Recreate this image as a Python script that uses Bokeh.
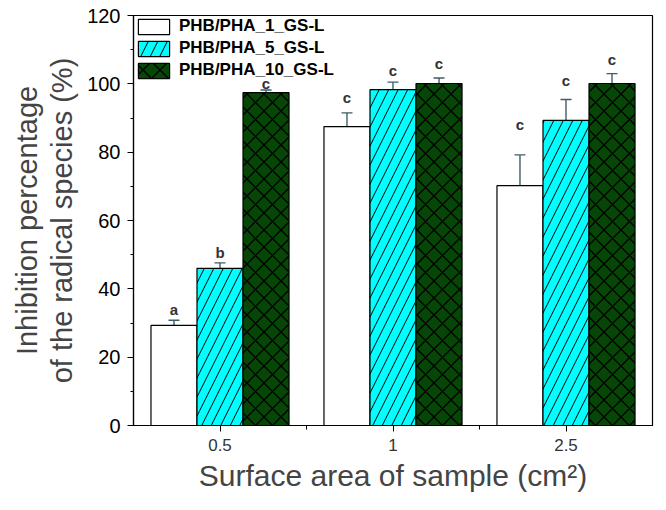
from bokeh.plotting import figure
from bokeh.models import (ColumnDataSource, Range1d, FixedTicker, SingleIntervalTicker,
                          Whisker, TeeHead, Legend, LegendItem)
from bokeh.transform import dodge
from bokeh.core.properties import value
from bokeh.embed import file_html
from bokeh.resources import INLINE

# ---- data ----
categories = ["0.5", "1", "2.5"]
series_names = ["PHB/PHA_1_GS-L", "PHB/PHA_5_GS-L", "PHB/PHA_10_GS-L"]
pha1_vals = [29.3, 87.5, 70.2]
pha1_err = [1.5, 4.0, 9.0]
pha5_vals = [46.0, 98.3, 89.3]
pha5_err = [1.6, 2.2, 6.1]
pha10_vals = [97.4, 100.1, 100.1]
pha10_err = [0.8, 1.6, 2.9]
pha1_letters = ["a", "c", "c"]
pha5_letters = ["b", "c", "c"]
pha10_letters = ["c", "c", "c"]
pha1_letter_y = [34.0, 96.0, 88.0]
pha5_letter_y = [50.5, 104.0, 101.0]
pha10_letter_y = [100.0, 106.0, 107.0]
y_ticks_interval = 20

FONT = "Liberation Sans"
BAR_W = 0.266

p = figure(frame_width=519, frame_height=410, output_backend="svg", toolbar_location=None,
           x_range=Range1d(-0.5, 2.5), y_range=Range1d(0, 120),
           min_border_left=133, min_border_right=6, min_border_top=15, min_border_bottom=20)
p.background_fill_color = "white"
p.border_fill_color = "white"
p.outline_line_color = "black"
p.outline_line_width = 1.2
p.xgrid.visible = False
p.ygrid.visible = False

idx = list(range(len(categories)))

styles = [
    dict(fill_color="white"),
    dict(fill_color="#00ffff", hatch_pattern="right_diagonal_line", hatch_color="black",
         hatch_weight=1.0, hatch_scale=19),
    dict(fill_color="#064606", hatch_pattern="diagonal_cross", hatch_color="black",
         hatch_weight=1.3, hatch_scale=17),
]
offsets = [-BAR_W, 0.0, BAR_W]
all_vals = [pha1_vals, pha5_vals, pha10_vals]
all_errs = [pha1_err, pha5_err, pha10_err]
all_letters = [pha1_letters, pha5_letters, pha10_letters]
all_letter_y = [pha1_letter_y, pha5_letter_y, pha10_letter_y]

items = []
for k in range(3):
    vals = all_vals[k]
    errs = all_errs[k]
    src = ColumnDataSource(dict(
        idx=idx, val=vals,
        upper=[v + e for v, e in zip(vals, errs)],
        lower=[v - e for v, e in zip(vals, errs)],
        letter=all_letters[k], ly=all_letter_y[k],
    ))
    r = p.vbar(x=dodge("idx", offsets[k], range=p.x_range), top="val", bottom=0,
               width=BAR_W, source=src, line_color="black", line_width=1.2, **styles[k])
    items.append(LegendItem(label=series_names[k], renderers=[r]))
    w = Whisker(source=src, base=dodge("idx", offsets[k], range=p.x_range),
                upper="upper", lower="lower", line_color="#3f5c68", line_width=1.4,
                upper_head=TeeHead(size=11, line_color="#3f5c68", line_width=1.4),
                lower_head=TeeHead(size=11, line_color="#3f5c68", line_width=1.4))
    p.add_layout(w)
    p.text(x=dodge("idx", offsets[k], range=p.x_range), y="ly", text="letter", source=src,
           text_font=value(FONT), text_font_size="15px", text_font_style="bold",
           text_color="#333333", text_align="center", text_baseline="middle")

legend = Legend(items=items, location="top_left", orientation="vertical")
legend.label_text_font = FONT
legend.label_text_font_size = "17px"
legend.label_text_font_style = "bold"
legend.label_text_color = "black"
legend.glyph_width = 39
legend.glyph_height = 19
legend.label_height = 19
legend.label_standoff = 6
legend.spacing = 2
legend.padding = 1
legend.margin = 0
legend.border_line_alpha = 0
legend.background_fill_alpha = 0
p.add_layout(legend)

# x axis
xax = p.xaxis[0]
xax.ticker = FixedTicker(ticks=idx, minor_ticks=[i + 0.5 for i in idx[:-1]])
xax.major_label_overrides = {i: c for i, c in zip(idx, categories)}
xax.axis_label = "Surface area of sample (cm\u00b2)"
xax.axis_label_text_font = FONT
xax.axis_label_text_font_size = "30px"
xax.axis_label_text_font_style = "normal"
xax.axis_label_standoff = 5
xax.major_label_text_font = FONT
xax.major_label_text_font_size = "17px"
xax.major_label_text_color = "#333333"
xax.major_label_standoff = 7
xax.major_tick_out = 6
xax.major_tick_in = 0
xax.minor_tick_out = 4
xax.minor_tick_in = 0
xax.axis_line_width = 1.2

# y axis
yax = p.yaxis[0]
yax.ticker = SingleIntervalTicker(interval=y_ticks_interval, num_minor_ticks=2)
yax.axis_label = "Inhibition percentage\nof the radical species (%)"
yax.axis_label_text_font = FONT
yax.axis_label_text_font_size = "29px"
yax.axis_label_text_line_height = 1.1
yax.axis_label_text_align = "left"
yax.axis_label_text_font_style = "normal"
yax.axis_label_standoff = 6
yax.major_label_text_font = FONT
yax.major_label_text_font_size = "20px"
yax.major_label_text_color = "black"
yax.major_label_standoff = 7
yax.major_tick_out = 6
yax.major_tick_in = 0
yax.minor_tick_out = 3
yax.minor_tick_in = 0
yax.axis_line_width = 1.2

open("out.html", "w").write(file_html(p, INLINE))
